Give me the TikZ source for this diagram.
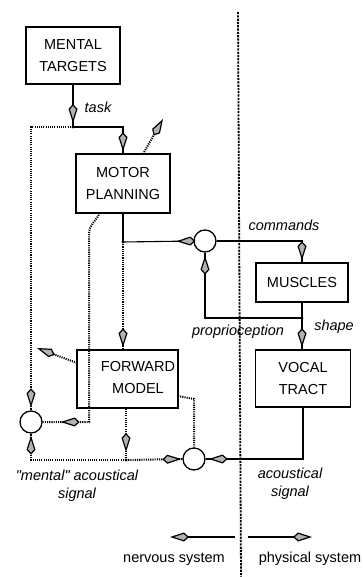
\documentclass[tikz,border=0pt]{standalone}
\usepackage{fontspec}
\setmainfont{Liberation Sans}
\usetikzlibrary{arrows.meta,decorations.markings}
\tikzset{
  kitetip/.tip={Kite[length=19pt,width=9pt,inset=5pt,fill=gray!60,line width=1.2pt]},
  box/.style={draw,line width=1.5pt,inner sep=0pt,font=\fontsize{14.5}{22}\selectfont,align=center},
  boxtext/.style={font=\fontsize{14.5}{22}\selectfont,align=center,inner sep=0pt},
  summer/.style={draw,circle,line width=1.3pt,minimum size=22pt,inner sep=0pt},
  conn/.style={line width=1.1pt},
  dotline/.style={line width=2pt,dash pattern=on 1.1pt off 1.1pt},
  sep/.style={line width=1.8pt,dash pattern=on 2.2pt off 1.1pt},
  lab/.style={font=\fontsize{14.5}{18}\selectfont\itshape,align=center,inner sep=0pt},
  plain/.style={font=\fontsize{14.5}{18}\selectfont,inner sep=0pt},
  junc/.style={circle,fill,inner sep=0pt,minimum size=3.2pt},
  marrow/.style={postaction={decorate},decoration={markings,mark=at position #1 with {\arrow{kitetip}}}},
}
\begin{document}
\begin{tikzpicture}[x=1pt,y=-1pt]
\useasboundingbox (0,0) rectangle (363,577);
% boxes
\node[box,minimum width=94pt,minimum height=57pt] (mt) at (73,55.5) {MENTAL\\TARGETS};
\node[box,minimum width=94pt,minimum height=59pt] (mp) at (123,183.5) {MOTOR\\PLANNING};
\node[box,minimum width=101pt,minimum height=58pt] (fm) at (127.5,379) {};
\node[boxtext] (fmt) at (138,378) {FORWARD\\MODEL};
\node[box,minimum width=92pt,minimum height=39pt] (mu) at (302,282.5) {MUSCLES};
\node[box,minimum width=95pt,minimum height=57pt] (vt) at (303,378.5) {VOCAL\\TRACT};
% summing circles
\node[summer] (c1) at (205,241) {};
\node[summer] (c2) at (31,422) {};
\node[summer] (c3) at (194,459) {};
% junctions and free ends
\coordinate (j1) at (73,127);
\coordinate (j2) at (123,242);
\coordinate (j3) at (126,460);
\coordinate (j4) at (302,318);
\coordinate (mpb) at (100,213);
\coordinate (mpd) at (89,234);
\coordinate (mpc) at (89,422);
\coordinate (la1s) at (143,154);
\coordinate (la1e) at (163,119);
\coordinate (la2s) at (77,363);
\coordinate (la2e) at (37,348);
\coordinate (fme) at (178,396);
\coordinate (fmk) at (194,399);
\coordinate (s1) at (238,12);
\coordinate (s2) at (241,577);
\coordinate (nl1) at (235,537);
\coordinate (nl2) at (170,537);
\coordinate (pr1) at (248,537);
\coordinate (pr2) at (312,537);
% separation line
\draw[sep] (s1) -- (s2);
% solid connectors
\draw[conn,marrow=-4pt] (mt.south) -- (j1);
\draw[conn,marrow=-2pt] (j1) -| (mp.north);
\draw[conn] (mp.south) -- (j2);
\draw[conn,marrow=17pt] (c1.west) -- (j2);
\draw[conn,marrow=-2pt] (c1.east) -| (mu.north);
\draw[conn] (mu.south) -- (j4);
\draw[conn,marrow=-3pt] (j4) -| (c1.south);
\draw[conn,marrow=-2pt] (j4) -- (j4 |- vt.north);
\draw[conn,marrow=-3pt] (vt.south) |- (c3.east);
% dotted connectors
\draw[dotline,marrow=-3pt] (j1) -| (c2.north);
\draw[dotline,marrow=-2pt] (j2) -- (j2 |- fm.north);
\draw[dotline,marrow=-18pt] (mpb) .. controls (95,222) and (89,225) .. (mpd) -- (mpc) -- (c2.east);
\draw[dotline,-kitetip] (la1s) -- (la1e);
\draw[dotline,-kitetip] (la2s) -- (la2e);
\draw[dotline,marrow=-8pt] (j3 |- fm.south) -- (j3);
\draw[dotline,marrow=-1pt] (j3) -- (c3.west);
\draw[dotline,marrow=-2pt] (j3) -| (c2.south);
\draw[dotline] (fme) -- (fmk) -- (c3.north);
% junction dots
\node[junc] at (j1) {};
\node[junc] at (j2) {};
\node[junc] at (j3) {};
\node[junc] at (j4) {};
% bottom arrows
\draw[conn,-kitetip] (nl1) -- (nl2);
\draw[conn,-kitetip] (pr1) -- (pr2);
% labels
\node[lab] (ltask) at (98,107) {task};
\node[lab] (lcmd) at (284,225) {commands};
\node[lab] (lshape) at (334,327) {shape};
\node[lab] (lprop) at (238,332) {proprioception};
\node[lab] (lment) at (77,486) {\textquotedbl mental\textquotedbl{} acoustical\\signal};
\node[lab] (lacou) at (290,484) {acoustical\\signal};
\node[plain] (lnerv) at (174,559) {nervous system};
\node[plain] (lphys) at (310,559) {physical system};
\end{tikzpicture}
\end{document}
